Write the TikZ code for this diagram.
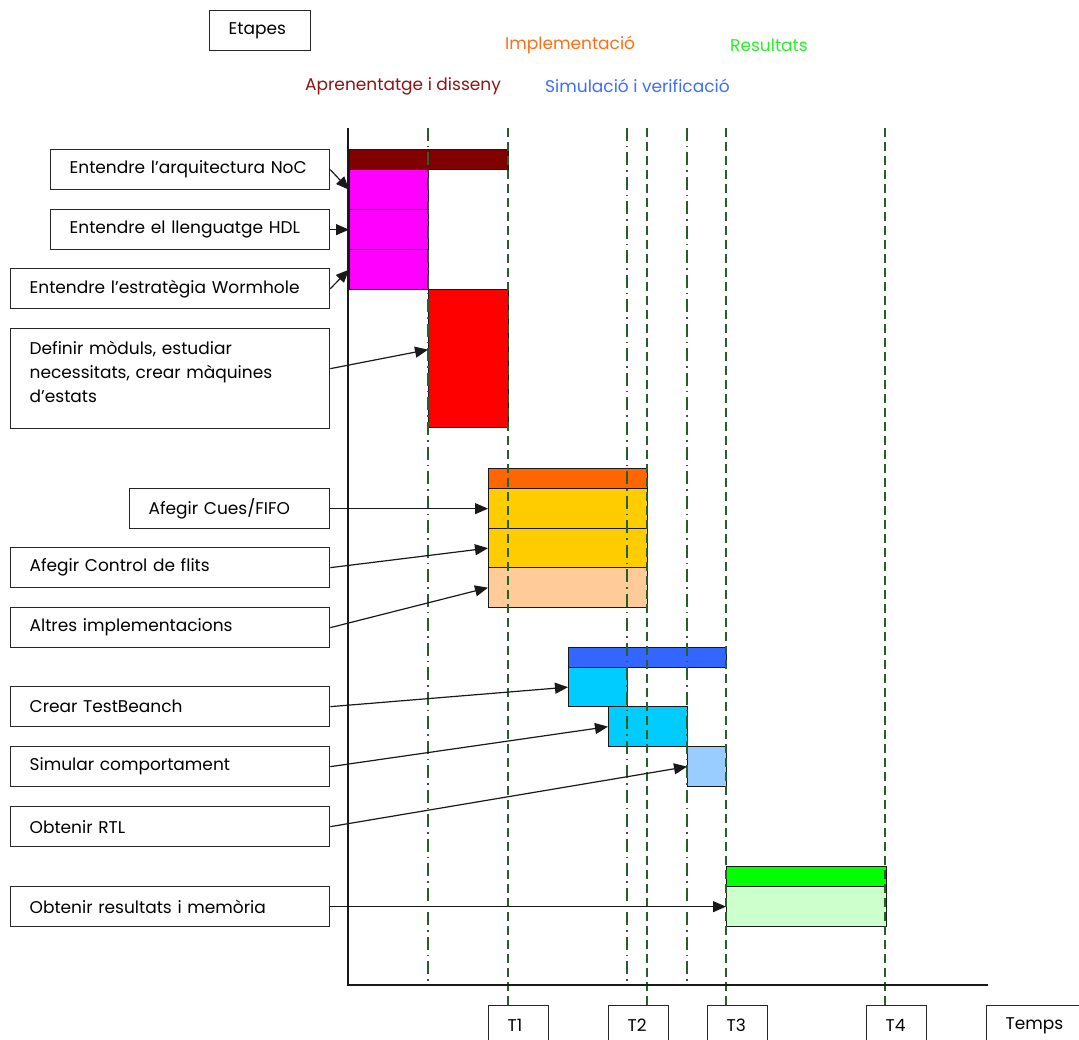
\documentclass[tikz,border=0pt]{standalone}
\usepackage{fontspec}
\setmainfont{Poppins}
\usetikzlibrary{arrows.meta}

\definecolor{cApr}{RGB}{128,0,0}
\definecolor{cMag}{RGB}{255,0,255}
\definecolor{cRed}{RGB}{255,0,0}
\definecolor{cImp}{RGB}{255,102,0}
\definecolor{cYel}{RGB}{255,204,0}
\definecolor{cPea}{RGB}{255,204,153}
\definecolor{cSim}{RGB}{51,102,255}
\definecolor{cCya}{RGB}{0,204,255}
\definecolor{cLbl}{RGB}{153,204,255}
\definecolor{cRes}{RGB}{0,255,0}
\definecolor{cLgr}{RGB}{204,255,204}
\definecolor{cGrid}{RGB}{40,95,40}
\definecolor{tImp}{RGB}{255,110,20}
\definecolor{tRes}{RGB}{40,240,40}
\definecolor{tApr}{RGB}{140,20,20}
\definecolor{tSim}{RGB}{60,110,255}

\begin{document}
\begin{tikzpicture}[x=1pt,y=-1pt,
  txt/.style={font=\fontsize{17}{24}\selectfont},
  lbl/.style={txt, draw=black!85, line width=1.3pt, anchor=north west,
    minimum height=40pt, inner xsep=19pt, inner ysep=0pt,
    text width=#1, align=left},
  bar/.style={draw=black!90, line width=1.3pt, anchor=north west,
    inner sep=0pt, fill=#1},
  head/.style={txt, anchor=west, inner sep=0pt, text=#1},
  conn/.style={-{Triangle[length=13pt,width=11pt]}, line width=1.2pt, black!90},
  tdash/.style={cGrid, line width=1.8pt, dash pattern=on 9pt off 5pt},
  tdot/.style={cGrid, line width=1.6pt, dash pattern=on 13pt off 5pt on 1.5pt off 5pt}]

\clip (0,0) rectangle (1079,1040);
\fill[white] (0,0) rectangle (1079,1040);

% legend of stages
\node[lbl=63pt] (etapes) at (209,10) {\mbox{Etapes}};
\node[head=tImp] (hImp) at (505,45) {Implementació};
\node[head=tRes] (hRes) at (730,45) {Resultats};
\node[head=tApr] (hApr) at (305,86) {Aprenentatge i disseny};
\node[head=tSim] (hSim) at (545,86) {Simulació i verificació};

% task bars
\node[bar=cApr, minimum width=159pt, minimum height=20pt] (bApr) at (349,149) {};
\node[bar=cMag, minimum width=79pt, minimum height=40pt] (bM1) at (349,169) {};
\node[bar=cMag, minimum width=79pt, minimum height=40pt] (bM2) at (349,209) {};
\node[bar=cMag, minimum width=79pt, minimum height=40pt] (bM3) at (349,249) {};
\node[bar=cRed, minimum width=80pt, minimum height=138pt] (bRed) at (428,289) {};

\node[bar=cImp, minimum width=159pt, minimum height=20pt] (bImp) at (488,468) {};
\node[bar=cYel, minimum width=159pt, minimum height=40pt] (bY1) at (488,488) {};
\node[bar=cYel, minimum width=159pt, minimum height=39pt] (bY2) at (488,528) {};
\node[bar=cPea, minimum width=159pt, minimum height=40pt] (bPe) at (488,567) {};

\node[bar=cSim, minimum width=158pt, minimum height=20pt] (bSim) at (568,647) {};
\node[bar=cCya, minimum width=59pt, minimum height=39pt] (bC1) at (568,667) {};
\node[bar=cCya, minimum width=79pt, minimum height=40pt] (bC2) at (608,706) {};
\node[bar=cLbl, minimum width=39pt, minimum height=40pt] (bLb) at (687,746) {};

\node[bar=cRes, minimum width=160pt, minimum height=20pt] (bRes) at (726,866) {};
\node[bar=cLgr, minimum width=160pt, minimum height=40pt] (bLg) at (726,886) {};

% time marks
\draw[tdot]  (428,128) -- (428,985);
\draw[tdash] (508,128) -- (508,1005);
\draw[tdot]  (627,128) -- (627,985);
\draw[tdash] (647,128) -- (647,1005);
\draw[tdot]  (687,128) -- (687,985);
\draw[tdash] (726,128) -- (726,1005);
\draw[tdash] (885,128) -- (885,1005);

% axes
\draw[line width=1.4pt, black!90] (348,128) -- (348,985) -- (988,985);

% time labels
\node[lbl=22pt] (t1) at (488,1005) {\mbox{T1}};
\node[lbl=22pt] (t2) at (608,1005) {\mbox{T2}};
\node[lbl=22pt] (t3) at (707,1005) {\mbox{T3}};
\node[lbl=22pt] (t4) at (866,1005) {\mbox{T4}};
\node[lbl=80pt] (temps) at (986,1005) {\mbox{Temps}};

% task descriptions
\node[lbl=241pt] (l1) at (50,149) {\mbox{Entendre l'arquitectura NoC}};
\node[lbl=241pt] (l2) at (50,209) {\mbox{Entendre el llenguatge HDL}};
\node[lbl=281pt] (l3) at (10,268) {\mbox{Entendre l'estratègia Wormhole}};
\node[lbl=281pt, minimum height=100pt] (l4) at (10,328)
  {Definir mòduls, estudiar\\necessitats, crear màquines\\d'estats\\[-10pt]\mbox{}};
\node[lbl=162pt] (l5) at (129,488) {\mbox{Afegir Cues/FIFO}};
\node[lbl=281pt] (l6) at (10,547) {\mbox{Afegir Control de flits}};
\node[lbl=281pt] (l7) at (10,607) {\mbox{Altres implementacions}};
\node[lbl=281pt] (l8) at (10,686) {\mbox{Crear TestBeanch}};
\node[lbl=281pt] (l9) at (10,746) {\mbox{Simular comportament}};
\node[lbl=281pt] (l10) at (10,806) {\mbox{Obtenir RTL}};
\node[lbl=281pt] (l11) at (10,886) {\mbox{Obtenir resultats i memòria}};

% connectors
\draw[conn] (l1.east) -- (bM1.west);
\draw[conn] (l2.east) -- (bM2.west);
\draw[conn] (l3.east) -- (bM3.west);
\draw[conn] ([yshift=10pt]l4.east) -- ([yshift=9pt]bRed.west);
\draw[conn] (l5.east) -- (bY1.west);
\draw[conn] (l6.east) -- (bY2.west);
\draw[conn] (l7.east) -- (bPe.west);
\draw[conn] (l8.east) -- (bC1.west);
\draw[conn] (l9.east) -- (bC2.west);
\draw[conn] (l10.east) -- (bLb.west);
\draw[conn] (l11.east) -- (bLg.west);
\end{tikzpicture}
\end{document}
